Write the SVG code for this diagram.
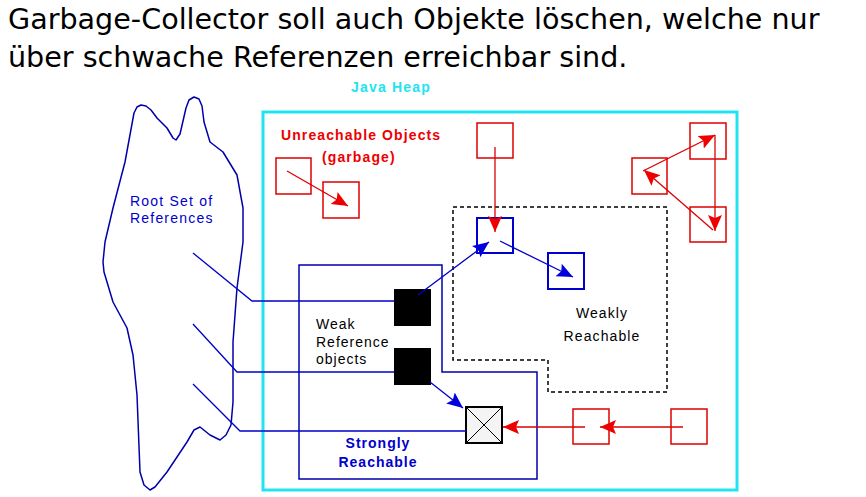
<svg xmlns="http://www.w3.org/2000/svg" width="866" height="497" viewBox="0 0 866 497">
<style>
.title{font-family:"DejaVu Sans",sans-serif;font-size:28.6px;fill:#000}
.t{font-family:"Liberation Sans",Arial,sans-serif;font-size:14px}
.b{font-weight:bold}
.red{fill:#ee0000}
.blue{fill:#0000cc}
.cyan{fill:#22e4ee}
.rbox{fill:none;stroke:#dd0000;stroke-width:1.5}
.bbox{fill:none;stroke:#0000cc;stroke-width:2}
.rl{fill:none;stroke:#dd0000;stroke-width:1.3}
.bl{fill:none;stroke:#0000cc;stroke-width:1.3}
</style>
<defs>
<marker id="ar" markerUnits="userSpaceOnUse" markerWidth="18" markerHeight="16" refX="16" refY="8" orient="auto">
<path d="M0,1 L16,8 L0,15 L3,8 z" fill="#ee0000"/>
</marker>
<marker id="ab" markerUnits="userSpaceOnUse" markerWidth="18" markerHeight="16" refX="16" refY="8" orient="auto">
<path d="M0,1 L16,8 L0,15 L3,8 z" fill="#0000dd"/>
</marker>
</defs>
<rect width="866" height="497" fill="#fff"/>
<g id="title">
<text class="title" x="8" y="29">Garbage-Collector soll auch Objekte löschen, welche nur</text>
<text class="title" x="8" y="67">über schwache Referenzen erreichbar sind.</text>
</g>
<g id="root-set">
<path d="M134,113 L137,107 L141,105 L146,106 L151,110 L157,118 L167,128 L173,138 L176,140 L180,134 L186,108 L189,100 L194,97 L199,99 L202,106 L204,122 L210,142 L223,152 L237,175 L243,208 L243,242 L237,288 L233,342 L233,402 L231,425 L226,435 L220,440 L210,435 L200,427 L194,430 L187,442 L167,472 L155,487 L150,490 L144,485 L140,472 L137,395 L133,355 L127,328 L113,302 L104,272 L103,262 L105,242 L113,208 L125,162 Z" fill="none" stroke="#0000aa" stroke-width="1.5" stroke-linejoin="round"/>
<text class="t blue" x="130" y="206" letter-spacing="1.2">Root Set of</text>
<text class="t blue" x="130" y="223" letter-spacing="1.2">References</text>
</g>
<g id="java-heap">
<rect x="263" y="112" width="474" height="378" fill="none" stroke="#22e4ee" stroke-width="3"/>
<text class="t b cyan" x="391" y="92" text-anchor="middle" letter-spacing="1.2">Java Heap</text>
</g>
<g id="unreachable">
<text class="t b red" x="281" y="140" letter-spacing="1.1">Unreachable Objects</text>
<text class="t b red" x="322" y="162" letter-spacing="1.1">(garbage)</text>
<rect class="rbox" x="276" y="158" width="35" height="36"/>
<rect class="rbox" x="323" y="182" width="36" height="36"/>
<rect class="rbox" x="477" y="123" width="36" height="35"/>
<rect class="rbox" x="690" y="123" width="36" height="36"/>
<rect class="rbox" x="632" y="158" width="35" height="36"/>
<rect class="rbox" x="690" y="207" width="36" height="35"/>
<rect class="rbox" x="573" y="409" width="36" height="35"/>
<rect class="rbox" x="671" y="409" width="36" height="35"/>
</g>
<g id="weakly-reachable">
<path d="M453,207 L667,207 L667,392 L548,392 L548,360 L453,360 Z" fill="none" stroke="#000" stroke-width="1.5" stroke-dasharray="4,3"/>
<text class="t" x="602" y="318" text-anchor="middle" letter-spacing="1.1">Weakly</text>
<text class="t" x="602" y="341" text-anchor="middle" letter-spacing="1.1">Reachable</text>
<rect class="bbox" x="477" y="218" width="36" height="35"/>
<rect class="bbox" x="548" y="253" width="36" height="36"/>
</g>
<g id="strongly-reachable">
<path d="M299,265 L442,265 L442,372 L537,372 L537,479 L299,479 Z" fill="none" stroke="#0000aa" stroke-width="1.5"/>
<text class="t b blue" x="378" y="448" text-anchor="middle" letter-spacing="1">Strongly</text>
<text class="t b blue" x="378" y="467" text-anchor="middle" letter-spacing="1">Reachable</text>
<text class="t" x="316" y="329" letter-spacing="1">Weak</text>
<text class="t" x="316" y="347" letter-spacing="1">Reference</text>
<text class="t" x="316" y="364" letter-spacing="1">objects</text>
<rect x="394" y="289" width="37" height="37" fill="#000"/>
<rect x="394" y="348" width="37" height="37" fill="#000"/>
<g id="cleared-object">
<rect x="466" y="407" width="36" height="36" fill="#f4f4f4" stroke="#000" stroke-width="2"/>
<path d="M466,407 L502,443 M502,407 L466,443" stroke="#000" stroke-width="1"/>
</g>
</g>
<g id="connectors">
<polyline class="bl" points="193,253 252,301 394,301"/>
<polyline class="bl" points="193,324 237,372 394,372"/>
<polyline class="bl" points="193,384 240,431 466,431"/>
<line class="bl" x1="418" y1="295" x2="489" y2="242" marker-end="url(#ab)"/>
<line class="bl" x1="500" y1="241" x2="573" y2="277" marker-end="url(#ab)"/>
<line class="bl" x1="430" y1="382" x2="463" y2="408" marker-end="url(#ab)"/>
<line class="rl" x1="287" y1="171" x2="348" y2="206" marker-end="url(#ar)"/>
<line class="rl" x1="495" y1="147" x2="495" y2="232" marker-end="url(#ar)"/>
<line class="rl" x1="643" y1="171" x2="715" y2="135" marker-end="url(#ar)"/>
<line class="rl" x1="715" y1="135" x2="715" y2="231" marker-end="url(#ar)"/>
<line class="rl" x1="713" y1="230" x2="644" y2="170" marker-end="url(#ar)"/>
<line class="rl" x1="683" y1="427" x2="600" y2="427" marker-end="url(#ar)"/>
<line class="rl" x1="585" y1="427" x2="503" y2="427" marker-end="url(#ar)"/>
</g>
</svg>
